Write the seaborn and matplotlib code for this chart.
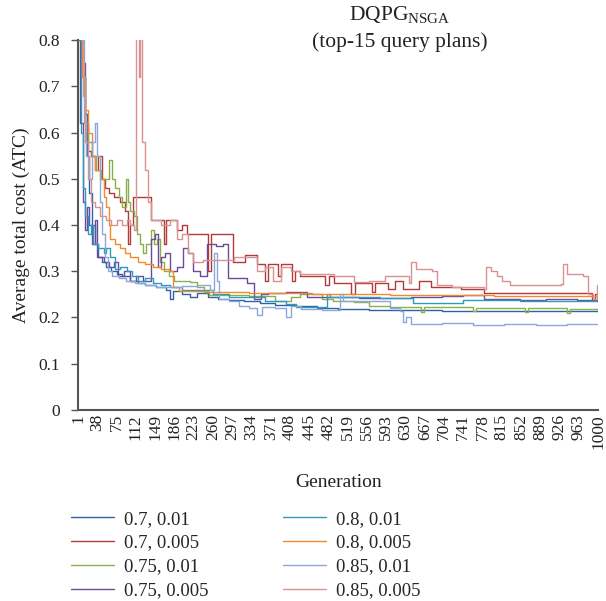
import pandas as pd
import seaborn as sns
import matplotlib.pyplot as plt

# series (crossover, mutation) and (generation, ATC)
labels = ["0.7, 0.01", "0.7, 0.005", "0.75, 0.01", "0.75, 0.005",
          "0.8, 0.01", "0.8, 0.005", "0.85, 0.01", "0.85, 0.005"]
colors = ["#2F62A6", "#B23A3A", "#8AB04A", "#6A4C9C",
          "#2E9BBA", "#F08A2C", "#8AA8D8", "#D9928F"]

atc_07_001 = [(1, 0.85), (6, 0.82), (10, 0.72), (14, 0.64), (18, 0.55), (22, 0.47), (28, 0.40),
              (34, 0.36), (40, 0.33), (46, 0.32), (55, 0.31), (65, 0.30), (75, 0.295), (85, 0.29),
              (100, 0.28), (115, 0.275), (130, 0.27), (150, 0.265), (170, 0.26), (178, 0.24),
              (184, 0.258), (200, 0.25), (215, 0.245), (230, 0.252), (250, 0.245), (270, 0.24),
              (290, 0.238), (320, 0.235), (350, 0.232), (380, 0.228), (420, 0.224), (460, 0.22),
              (500, 0.218), (560, 0.217), (620, 0.216), (700, 0.215), (800, 0.214), (900, 0.213),
              (1000, 0.212)]
atc_07_0005 = [(1, 0.85), (8, 0.75), (14, 0.62), (20, 0.56), (26, 0.55), (34, 0.52), (40, 0.55),
               (46, 0.50), (53, 0.48), (60, 0.47), (70, 0.46), (82, 0.45), (91, 0.43), (96, 0.36),
               (101, 0.40), (106, 0.46), (134, 0.46), (140, 0.41), (160, 0.41), (165, 0.36),
               (170, 0.41), (190, 0.39), (200, 0.40), (210, 0.38), (240, 0.38), (250, 0.30),
               (256, 0.38), (278, 0.38), (299, 0.32), (322, 0.335), (345, 0.315), (360, 0.28),
               (365, 0.315), (380, 0.315), (385, 0.29), (390, 0.315), (405, 0.315), (412, 0.28),
               (418, 0.3), (428, 0.29), (470, 0.29), (476, 0.27), (482, 0.29), (492, 0.275),
               (520, 0.275), (526, 0.25), (532, 0.275), (560, 0.275), (566, 0.255), (572, 0.275),
               (596, 0.262), (610, 0.28), (625, 0.262), (655, 0.28), (679, 0.265), (736, 0.262),
               (781, 0.254), (980, 0.252), (988, 0.24), (994, 0.25), (1000, 0.25)]
atc_075_001 = [(1, 0.82), (8, 0.72), (14, 0.62), (20, 0.58), (28, 0.55), (36, 0.52), (45, 0.50),
               (60, 0.54), (66, 0.50), (72, 0.48), (80, 0.46), (85, 0.44), (92, 0.50), (97, 0.45),
               (101, 0.43), (108, 0.42), (114, 0.38), (120, 0.36), (126, 0.34), (132, 0.36),
               (140, 0.39), (146, 0.36), (152, 0.37), (158, 0.32), (166, 0.30), (176, 0.29),
               (186, 0.28), (200, 0.278), (215, 0.276), (230, 0.265), (242, 0.255), (252, 0.248),
               (330, 0.246), (380, 0.235), (410, 0.245), (428, 0.25), (470, 0.24), (490, 0.236),
               (530, 0.233), (560, 0.225), (600, 0.222), (660, 0.212), (665, 0.222), (760, 0.214),
               (765, 0.221), (860, 0.211), (866, 0.22), (940, 0.21), (946, 0.219), (1000, 0.218)]
atc_075_0005 = [(1, 0.82), (5, 0.62), (10, 0.45), (14, 0.39), (18, 0.44), (22, 0.40), (28, 0.36),
                (34, 0.41), (38, 0.33), (50, 0.32), (60, 0.31), (70, 0.32), (78, 0.29), (90, 0.30),
                (100, 0.28), (112, 0.29), (125, 0.28), (140, 0.37), (148, 0.38), (154, 0.31),
                (160, 0.33), (168, 0.34), (178, 0.30), (190, 0.31), (203, 0.35), (212, 0.34),
                (222, 0.30), (235, 0.29), (249, 0.36), (265, 0.355), (280, 0.36), (288, 0.285),
                (310, 0.285), (326, 0.275), (338, 0.24), (352, 0.25), (365, 0.252), (400, 0.255),
                (420, 0.256), (440, 0.245), (540, 0.243), (600, 0.242), (640, 0.244), (700, 0.246),
                (740, 0.248), (780, 0.24), (850, 0.238), (900, 0.24), (960, 0.237), (1000, 0.235)]
atc_08_001 = [(1, 0.80), (6, 0.60), (10, 0.48), (14, 0.42), (20, 0.38), (26, 0.40), (30, 0.36),
              (40, 0.35), (50, 0.34), (55, 0.35), (63, 0.33), (72, 0.305), (82, 0.31), (95, 0.30),
              (105, 0.29), (115, 0.28), (130, 0.285), (145, 0.275), (160, 0.27), (178, 0.265),
              (200, 0.26), (236, 0.26), (260, 0.25), (290, 0.245), (330, 0.245), (360, 0.235),
              (400, 0.23), (420, 0.222), (480, 0.25), (484, 0.245), (540, 0.244), (580, 0.242),
              (645, 0.232), (722, 0.232), (740, 0.238), (800, 0.237), (850, 0.236), (900, 0.235),
              (1000, 0.233)]
atc_08_0005 = [(1, 0.82), (8, 0.72), (14, 0.65), (20, 0.60), (28, 0.55), (34, 0.52), (43, 0.50),
               (50, 0.46), (55, 0.44), (60, 0.40), (63, 0.37), (72, 0.36), (82, 0.35), (91, 0.34),
               (101, 0.33), (115, 0.32), (130, 0.315), (145, 0.31), (160, 0.305), (176, 0.30),
               (184, 0.265), (195, 0.258), (250, 0.255), (330, 0.252), (450, 0.25), (600, 0.248),
               (800, 0.246), (1000, 0.245)]
atc_085_001 = [(1, 0.85), (8, 0.80), (12, 0.62), (16, 0.55), (22, 0.50), (28, 0.58), (34, 0.62),
               (38, 0.55), (42, 0.45), (46, 0.38), (52, 0.33), (58, 0.30), (66, 0.29), (80, 0.285),
               (92, 0.28), (110, 0.275), (130, 0.27), (150, 0.265), (175, 0.265), (200, 0.268),
               (230, 0.27), (255, 0.26), (262, 0.34), (268, 0.28), (272, 0.24), (290, 0.235),
               (310, 0.225), (330, 0.22), (345, 0.205), (355, 0.222), (380, 0.22), (400, 0.20),
               (410, 0.225), (430, 0.218), (470, 0.216), (505, 0.25), (510, 0.235), (560, 0.235),
               (600, 0.22), (620, 0.215), (625, 0.19), (630, 0.20), (640, 0.185), (700, 0.188),
               (760, 0.184), (820, 0.186), (880, 0.183), (940, 0.185), (1000, 0.183)]
atc_085_0005 = [(1, 0.85), (10, 0.68), (14, 0.58), (20, 0.50), (26, 0.45), (34, 0.44), (43, 0.42),
                (55, 0.41), (65, 0.40), (75, 0.41), (85, 0.40), (95, 0.41), (101, 0.40), (108, 0.39),
                (112, 0.85), (118, 0.72), (120, 0.85), (124, 0.58), (130, 0.52), (136, 0.45),
                (140, 0.41), (160, 0.40), (178, 0.41), (190, 0.37), (200, 0.38), (212, 0.34),
                (222, 0.32), (240, 0.325), (288, 0.325), (300, 0.33), (322, 0.33), (345, 0.30),
                (360, 0.31), (375, 0.28), (390, 0.31), (410, 0.30), (428, 0.295), (492, 0.29),
                (530, 0.277), (560, 0.28), (590, 0.29), (636, 0.275), (641, 0.32), (650, 0.305),
                (680, 0.30), (690, 0.27), (720, 0.265), (780, 0.262), (785, 0.31), (795, 0.30),
                (805, 0.29), (815, 0.278), (830, 0.27), (929, 0.272), (932, 0.315), (940, 0.295),
                (970, 0.29), (980, 0.25), (990, 0.24), (997, 0.27), (1000, 0.27)]

all_series = [atc_07_001, atc_07_0005, atc_075_001, atc_075_0005,
              atc_08_001, atc_08_0005, atc_085_001, atc_085_0005]

tick_gens = list(range(1, 1000, 37)) + [1000]

rows = []
for lab, pts in zip(labels, all_series):
    for g, v in pts:
        rows.append({"Generation": g, "ATC": v, "series": lab})
df = pd.DataFrame(rows)

sns.set_theme(style="ticks")
plt.rcParams['font.family'] = ['Liberation Serif', 'DejaVu Serif']
plt.rcParams['mathtext.fontset'] = 'custom'
plt.rcParams['mathtext.rm'] = 'Liberation Serif'

txtcolor = "#222222"
fig = plt.figure(figsize=(6.06, 6.01), dpi=100)
ax = fig.add_axes([0.129, 0.318, 0.858, 0.615])

sns.lineplot(data=df, x="Generation", y="ATC", hue="series", hue_order=labels,
             palette=colors, estimator=None, sort=False, drawstyle="steps-post",
             linewidth=1.0, ax=ax)

ax.set_xlim(1, 1000)
ax.set_ylim(0, 0.8)
ax.set_xticks(tick_gens)
ax.set_xticklabels([str(t) for t in tick_gens], rotation=90, fontsize=12.5, color=txtcolor)
ax.set_yticks([i / 10 for i in range(9)])
ax.set_yticklabels(["0"] + ["%.1f" % (i / 10) for i in range(1, 9)], fontsize=12.5, color=txtcolor)
ax.tick_params(axis="x", length=0, pad=3)
ax.tick_params(axis="y", length=5, width=1, color="#555555", pad=8)
for s in ["top", "right"]:
    ax.spines[s].set_visible(False)
for s in ["left", "bottom"]:
    ax.spines[s].set_color("#555555")
    ax.spines[s].set_linewidth(1.5)

ax.set_xlabel("Generation", fontsize=14, color=txtcolor, labelpad=18)
ax.set_ylabel("Average total cost (ATC)", fontsize=14, color=txtcolor, labelpad=6)

fig.text(0.66, 0.992, r"DQPG$_{\mathrm{NSGA}}$", ha="center", va="top", fontsize=15.5, color=txtcolor)
fig.text(0.66, 0.947, "(top-15 query plans)", ha="center", va="top", fontsize=15.5, color=txtcolor)

handles, labs = ax.get_legend_handles_labels()
ax.get_legend().remove()
fig.legend(handles, labs, loc="upper left", bbox_to_anchor=(0.105, 0.163), ncol=2,
           frameon=False, fontsize=13.5, handlelength=2.3, handletextpad=0.5,
           columnspacing=4.0, labelspacing=0.36, borderaxespad=0)

plt.savefig("out.png", dpi=100)
